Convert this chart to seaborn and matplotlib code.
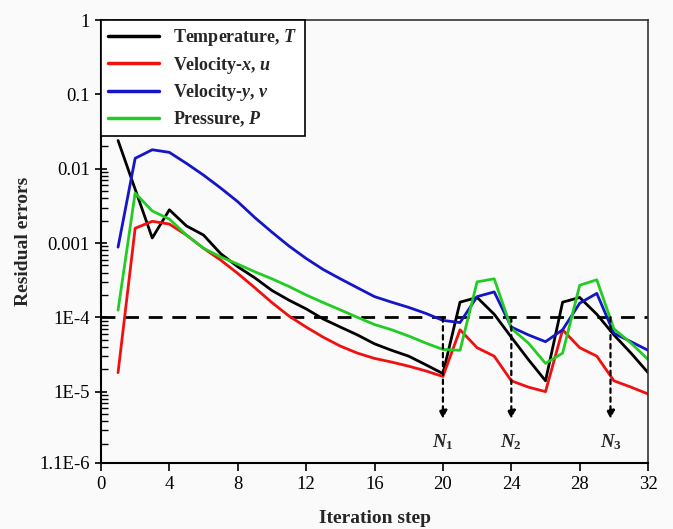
import numpy as np
import pandas as pd
import matplotlib
matplotlib.use("Agg")
import matplotlib.pyplot as plt
import seaborn as sns
from matplotlib.ticker import FixedLocator, NullFormatter

steps = list(range(1, 33))
temperature = [2.4e-2, 5.3e-3, 1.17e-3, 2.8e-3, 1.7e-3, 1.28e-3, 7.2e-4, 4.8e-4,
               3.4e-4, 2.3e-4, 1.7e-4, 1.3e-4, 9.5e-5, 7.4e-5, 5.8e-5, 4.4e-5,
               3.6e-5, 3.0e-5, 2.3e-5, 1.75e-5, 1.6e-4, 1.85e-4, 1.1e-4, 5.4e-5,
               2.7e-5, 1.4e-5, 1.6e-4, 1.85e-4, 1.1e-4, 5.8e-5, 3.3e-5, 1.8e-5]
velocity_x = [1.8e-5, 1.58e-3, 1.96e-3, 1.8e-3, 1.28e-3, 8.5e-4, 5.9e-4, 3.9e-4,
              2.5e-4, 1.58e-4, 1.04e-4, 7.4e-5, 5.4e-5, 4.1e-5, 3.3e-5, 2.8e-5,
              2.5e-5, 2.2e-5, 1.9e-5, 1.6e-5, 6.8e-5, 3.9e-5, 3.0e-5, 1.4e-5,
              1.15e-5, 1.0e-5, 6.8e-5, 3.9e-5, 3.0e-5, 1.4e-5, 1.15e-5, 9.3e-6]
velocity_y = [8.8e-4, 1.38e-2, 1.8e-2, 1.66e-2, 1.18e-2, 8.2e-3, 5.5e-3, 3.6e-3,
              2.2e-3, 1.4e-3, 9.1e-4, 6.2e-4, 4.4e-4, 3.3e-4, 2.5e-4, 1.9e-4,
              1.6e-4, 1.36e-4, 1.13e-4, 9.1e-5, 8.5e-5, 1.9e-4, 2.2e-4, 7.4e-5,
              5.8e-5, 4.7e-5, 6.8e-5, 1.55e-4, 2.1e-4, 6.1e-5, 4.7e-5, 3.6e-5]
pressure = [1.25e-4, 4.7e-3, 2.7e-3, 2.1e-3, 1.28e-3, 8.5e-4, 6.5e-4, 5.2e-4,
            4.1e-4, 3.3e-4, 2.6e-4, 2.0e-4, 1.58e-4, 1.26e-4, 1.0e-4, 8.0e-5,
            6.8e-5, 5.6e-5, 4.5e-5, 3.7e-5, 3.6e-5, 3.0e-4, 3.3e-4, 7.1e-5,
            4.5e-5, 2.4e-5, 3.3e-5, 2.7e-4, 3.2e-4, 7.0e-5, 4.5e-5, 2.7e-5]

series_names = ["Temperature, $T$", "Velocity-$x$, $u$", "Velocity-$y$, $v$", "Pressure, $P$"]
series_colors = ["#000000", "#f01010", "#1515c8", "#22cc22"]

threshold = 1e-4
arrow_steps = [20, 24, 29.8]
arrow_labels = ["$N_1$", "$N_2$", "$N_3$"]

ytick_vals = [1, 0.1, 0.01, 0.001, 1e-4, 1e-5, 1.1e-6]
ytick_labels = ["1", "0.1", "0.01", "0.001", "1E-4", "1E-5", "1.1E-6"]
xtick_vals = [0, 4, 8, 12, 16, 20, 24, 28, 32]

sns.set_theme(style="ticks")
plt.rcParams["font.family"] = ["Liberation Serif", "DejaVu Serif"]
plt.rcParams["mathtext.fontset"] = "custom"
plt.rcParams["mathtext.it"] = "Liberation Serif:italic:bold"
plt.rcParams["mathtext.rm"] = "Liberation Serif:bold"
plt.rcParams["mathtext.bf"] = "Liberation Serif:bold"

df = pd.DataFrame({
    "step": steps * 4,
    "value": temperature + velocity_x + velocity_y + pressure,
    "series": sum([[n] * len(steps) for n in series_names], []),
})

fig = plt.figure(figsize=(6.73, 5.29), dpi=100, facecolor="#fafafa")
ax = fig.add_axes([0.150, 0.125, 0.813, 0.837])
ax.set_facecolor("#fafafa")

sns.lineplot(data=df, x="step", y="value", hue="series", hue_order=series_names,
             palette=series_colors, linewidth=2.0, ax=ax, legend=True)

ax.set_yscale("log")
ax.set_ylim(1.1e-6, 1)
ax.set_xlim(0, 32)

ax.axhline(threshold, color="black", linestyle=(0, (5, 3.5)), linewidth=2.0, zorder=1)

for xs, lab in zip(arrow_steps, arrow_labels):
    ax.annotate("", xy=(xs, 4.3e-6), xytext=(xs, threshold),
                arrowprops=dict(arrowstyle="-|>", linestyle=(0, (2, 2)), color="black",
                                lw=1.6, mutation_scale=12, shrinkA=0, shrinkB=0))
    ax.text(xs, 2.1e-6, lab, ha="center", va="center", fontsize=13.5)

ax.yaxis.set_major_locator(FixedLocator(ytick_vals))
ax.set_yticklabels(ytick_labels)
minor_vals = [m * 10.0 ** e for e in range(-6, 0) for m in range(2, 10)
              if m * 10.0 ** e > 1.1e-6]
ax.yaxis.set_minor_locator(FixedLocator(minor_vals))
ax.yaxis.set_minor_formatter(NullFormatter())
ax.set_xticks(xtick_vals)

ax.tick_params(axis="y", which="major", direction="inout", length=9, width=1.2,
               labelsize=13.5, colors="black", left=True)
ax.tick_params(axis="y", which="minor", direction="in", length=5, width=1.0,
               color="black", left=True)
ax.tick_params(axis="x", which="major", direction="out", length=6, width=1.2,
               labelsize=13.5, colors="black")
ax.tick_params(axis="x", which="minor", bottom=False)

for sp in ["left", "bottom"]:
    ax.spines[sp].set_linewidth(1.5)
    ax.spines[sp].set_color("black")
for sp in ["top", "right"]:
    ax.spines[sp].set_linewidth(1.2)
    ax.spines[sp].set_color("#333333")

ax.set_xlabel("Iteration step", fontsize=14, fontweight="bold", labelpad=12)
ax.set_ylabel("Residual errors", fontsize=14, fontweight="bold", labelpad=5)

leg = ax.legend(loc="upper left", bbox_to_anchor=(0, 1), borderaxespad=0,
                frameon=True, fancybox=False, fontsize=13, handlelength=2.8,
                labelspacing=0.35, borderpad=0.4, handletextpad=0.8)
leg.get_frame().set_edgecolor("black")
leg.get_frame().set_linewidth(1.2)
leg.get_frame().set_facecolor("white")
leg.get_frame().set_alpha(1)
for t in leg.get_texts():
    t.set_fontweight("bold")
for l in leg.get_lines():
    l.set_linewidth(2.5)

fig.savefig("out.png", dpi=100, facecolor=fig.get_facecolor())
